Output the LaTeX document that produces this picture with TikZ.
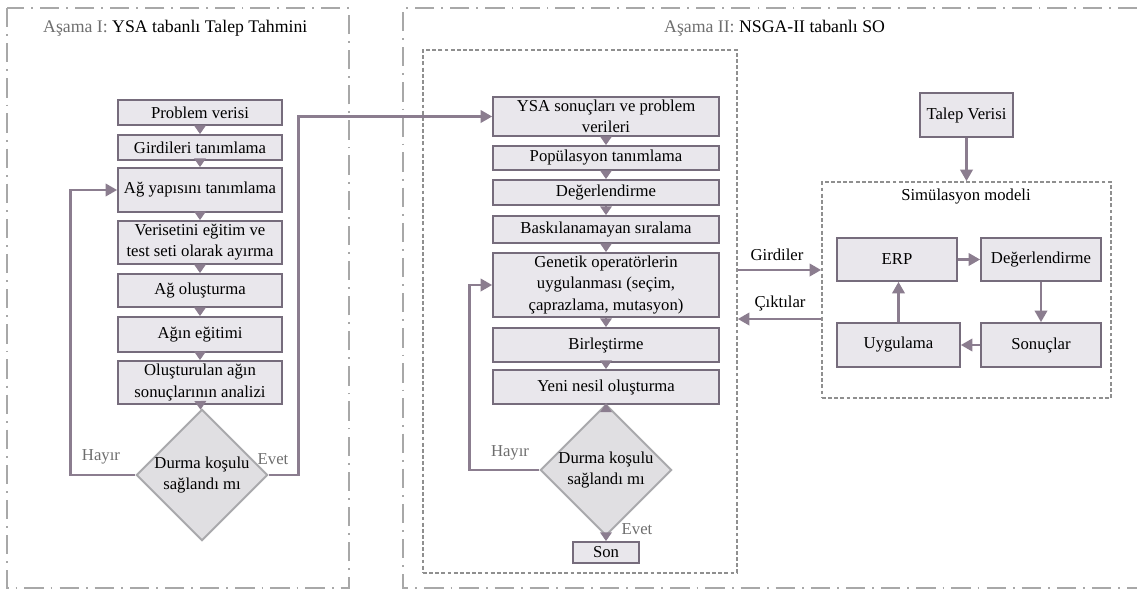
\documentclass[tikz,border=0pt]{standalone}
\usepackage{fontspec}
\setmainfont{Liberation Serif}
\usetikzlibrary{arrows.meta,shapes.geometric}
\definecolor{lin}{HTML}{8B7D8F}
\definecolor{boxfill}{HTML}{E9E7EC}
\definecolor{boxline}{HTML}{766C7C}
\definecolor{frm}{HTML}{A8A8A8}
\definecolor{dfill}{HTML}{E0DFE2}
\definecolor{dline}{HTML}{A9A9AC}
\definecolor{lbl}{HTML}{6E6E6E}
\tikzset{
  box/.style={draw=boxline,line width=1pt,fill=boxfill,inner sep=1pt,align=center},
  cond/.style={diamond,draw=dline,line width=1.1pt,fill=dfill,inner sep=0pt,align=center,minimum width=2.56cm,minimum height=2.4cm},
  phase/.style={draw=frm,line width=1.1pt,dash pattern=on 11pt off 4pt on 1pt off 4pt},
  stage/.style={draw=frm!85!black,line width=1pt,dash pattern=on 2.2pt off 1.3pt},
  link/.style={draw=lin,line width=1.4pt,-{Triangle[width=7pt,length=6.5pt]}},
  tiny/.style={draw=lin,line width=1.2pt,-{Triangle[width=6.5pt,length=5pt]}},
}

\begin{document}
\begin{tikzpicture}[x=0.02cm,y=-0.02cm,font=\fontsize{9.5}{12}\selectfont]
\useasboundingbox (0,0) rectangle (1137,592);
\draw[phase] (7,8) rectangle (349,588);
\draw[phase] (1137,8) -- (403,8) -- (403,588) -- (1137,588);
\node[anchor=west,font=\fontsize{10.1}{12}\selectfont] (t1) at (37,28) {\textcolor{lbl}{Aşama I:} YSA tabanlı Talep Tahmini};
\node[anchor=west,font=\fontsize{10.1}{12}\selectfont] (t2) at (658,28) {\textcolor{lbl}{Aşama II:} NSGA-II tabanlı SO};

% Asama I
\foreach \n/\y/\h/\t in {
  a1/112.5/0.5/{Problem verisi},
  a2/147.5/0.5/{Girdileri tanımlama},
  a3/190/0.88/{Ağ yapısını tanımlama},
  a4/242.5/0.86/{Verisetini eğitim ve\\test seti olarak ayırma},
  a5/290.5/0.66/{Ağ oluşturma},
  a6/334.5/0.7/{Ağın eğitimi},
  a7/382.5/0.86/{Oluşturulan ağın\\sonuçlarının analizi}%
}{
  \node[box,minimum width=3.28cm,minimum height=\h cm] (\n) at (200,\y) {\t};
}
\node[cond,minimum height=2.48cm] (ad) at (202,475) {Durma koşulu\\sağlandı mı};
\foreach \u/\v in {a1/a2,a2/a3,a3/a4,a4/a5,a5/a6,a6/a7,a7/ad}
  \draw[tiny] (\u) -- (\v);
\draw[link] (ad.west) -- ++(-65,0) |- (a3.west);
\node[text=lbl] (h1) at (101,457) {Hayır};
\node[text=lbl] (e1) at (273,459) {Evet};

% Asama II
\node[stage,minimum width=6.28cm,minimum height=10.46cm] (ga) at (580,311.5) {};
\foreach \n/\y/\h/\t in {
  b1/116.5/0.78/{YSA sonuçları ve problem\\verileri},
  b2/158/0.48/{Popülasyon tanımlama},
  b3/192.5/0.5/{Değerlendirme},
  b4/229.5/0.54/{Baskılanamayan sıralama},
  b5/285/1.28/{Genetik operatörlerin\\uygulanması (seçim,\\çaprazlama, mutasyon)},
  b6/345/0.68/{Birleştirme},
  b7/387/0.68/{Yeni nesil oluşturma}%
}{
  \node[box,minimum width=4.52cm,minimum height=\h cm] (\n) at (606,\y) {\t};
}
\node[cond,minimum height=2.32cm] (bd) at (606,470) {Durma koşulu\\sağlandı mı};
\node[box,minimum width=1.32cm,minimum height=0.42cm] (son) at (606,552.5) {Son};
\foreach \u/\v in {b1/b2,b2/b3,b3/b4,b4/b5,b5/b6,b6/b7,b7/bd,bd/son}
  \draw[tiny] (\u) -- (\v);
\draw[link] (ad.east) -- ++(30,0) |- (b1.west);
\draw[link] (bd.west) -- ++(-70,0) |- (b5.west);
\node[text=lbl] (h2) at (510,453) {Hayır};
\node[text=lbl] (e2) at (637,529) {Evet};

% simulasyon
\node[box,minimum width=1.86cm,minimum height=0.88cm] (tv) at (966.5,115) {Talep Verisi};
\node[stage,minimum width=5.78cm,minimum height=4.32cm] (sim) at (966.5,290) {};
\node (st) at (966,197) {Simülasyon modeli};
\node[box,minimum width=2.4cm,minimum height=0.86cm] (erp) at (897,259.5) {ERP};
\node[box,minimum width=2.4cm,minimum height=0.86cm] (deg) at (1041,259.5) {Değerlendirme};
\node[box,minimum width=2.46cm,minimum height=0.88cm] (uyg) at (898.5,345) {Uygulama};
\node[box,minimum width=2.4cm,minimum height=0.88cm] (snc) at (1041,345) {Sonuçlar};
\draw[link] (tv) -- (sim);
\draw[link] (erp) -- (deg);
\draw[link] (deg) -- (snc);
\draw[link] (snc) -- (uyg);
\draw[link] (uyg.north) -- (uyg.north |- erp.south);

\coordinate (gy) at (0,270);
\coordinate (cy) at (0,319);
\draw[link] (ga.east |- gy) -- (sim.west |- gy);
\draw[link] (sim.west |- cy) -- (ga.east |- cy);
\node (gl) at (777,255) {Girdiler};
\node (cl) at (780,303) {Çıktılar};
\end{tikzpicture}
\end{document}
